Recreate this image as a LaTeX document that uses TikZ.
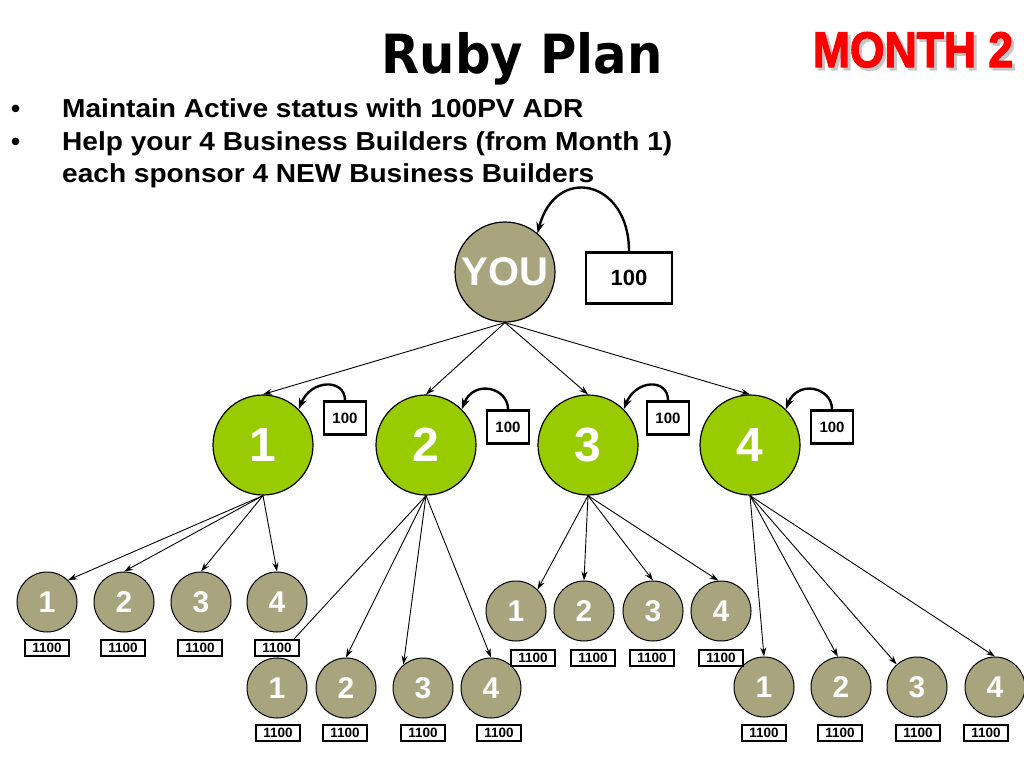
\documentclass[tikz,border=0pt]{standalone}
\usepackage{fontspec}
\setmainfont{Liberation Sans}
\newfontfamily\titlefont{DejaVu Sans}
\newfontfamily\monthfont[BoldFeatures={FakeBold=2.5}]{Liberation Sans}
\usetikzlibrary{arrows.meta}
\definecolor{khaki}{RGB}{168,164,126}
\definecolor{lgreen}{RGB}{153,204,0}
\definecolor{mred}{RGB}{255,0,0}
\begin{document}
\begin{tikzpicture}[x=1pt,y=-1pt,
  bigc/.style={circle, draw=black, line width=1.2pt, fill=khaki, minimum size=100pt, inner sep=0pt, text=white, font=\fontsize{40}{40}\selectfont\bfseries},
  greenc/.style={circle, draw=black, line width=1.2pt, fill=lgreen, minimum size=100pt, inner sep=0pt, text=white, font=\fontsize{48}{48}\selectfont\bfseries},
  smallc/.style={circle, draw=black, line width=1pt, fill=khaki, minimum size=60pt, inner sep=0pt, text=white, font=\fontsize{30}{30}\selectfont\bfseries},
  pvbox/.style={draw=black, line width=2.5pt, fill=white, minimum width=86pt, minimum height=51pt, inner sep=0pt, font=\fontsize{22}{22}\selectfont\bfseries},
  sbox/.style={draw=black, line width=2.5pt, fill=white, minimum width=42pt, minimum height=33pt, inner sep=0pt, font=\fontsize{15}{15}\selectfont\bfseries},
  tbox/.style={draw=black, line width=2.2pt, fill=white, minimum width=44pt, minimum height=16pt, inner sep=0pt, font=\fontsize{13.5}{13.5}\selectfont\bfseries},
  edge/.style={-{Stealth[length=9pt,width=6pt]}, line width=0.9pt},
  loopa/.style={-{Stealth[length=11pt,width=8pt]}, line width=2.4pt},
  bullettext/.style={anchor=base west, inner sep=0pt, font=\fontsize{26}{26}\selectfont\bfseries}
]
\useasboundingbox (0,0) rectangle (1024,768);

% title
\node[anchor=base, inner sep=0pt] (title) at (522,73) {\scalebox{0.92}[1]{\titlefont\bfseries\fontsize{54}{54}\selectfont Ruby Plan}};
\node[anchor=base, inner sep=0pt, text=black!22] (monthsh) at (916,70) {\scalebox{0.89}[1]{\monthfont\bfseries\fontsize{50}{50}\selectfont MONTH 2}};
\node[anchor=base, inner sep=0pt, text=mred] (month) at (913,67) {\scalebox{0.89}[1]{\monthfont\bfseries\fontsize{50}{50}\selectfont MONTH 2}};

% bullets
\node[bullettext] (bul1) at (11,117) {•};
\node[bullettext] (bul2) at (11,150) {•};
\node[bullettext] (l1) at (62,117) {\scalebox{1.08}[1]{Maintain Active status with 100PV ADR}};
\node[bullettext] (l2) at (62,150) {\scalebox{1.08}[1]{Help your 4 Business Builders (from Month 1)}};
\node[bullettext] (l3) at (62,182) {\scalebox{1.08}[1]{each sponsor 4 NEW Business Builders}};

% top
\node[bigc] (you) at (505,272) {YOU};
\node[pvbox] (youpv) at (629,278) {100};

% level 1
\node[greenc] (n1) at (263,445) {1};
\node[greenc] (n2) at (426,445) {2};
\node[greenc] (n3) at (588,445) {3};
\node[greenc] (n4) at (750,445) {4};
\node[sbox] (b1) at (345,418) {100};
\node[sbox] (b2) at (508,427) {100};
\node[sbox] (b3) at (668,418) {100};
\node[sbox] (b4) at (832,427) {100};

% level 2
\node[smallc] (a1) at (47,602) {1};
\node[smallc] (a2) at (124,602) {2};
\node[smallc] (a3) at (201,602) {3};
\node[smallc] (a4) at (277,602) {4};
\node[smallc] (c1) at (277,688) {1};
\node[smallc] (c2) at (346,688) {2};
\node[smallc] (c3) at (423,688) {3};
\node[smallc] (c4) at (491,688) {4};
\node[smallc] (d1) at (516,611) {1};
\node[smallc] (d2) at (584,611) {2};
\node[smallc] (d3) at (653,611) {3};
\node[smallc] (d4) at (721,611) {4};
\node[smallc] (e1) at (764,687) {1};
\node[smallc] (e2) at (841,687) {2};
\node[smallc] (e3) at (917,687) {3};
\node[smallc] (e4) at (995,687) {4};

% edges
\foreach \t in {n1,n2,n3,n4} \draw[edge] (you.south) -- (\t.north);
\draw[edge] (n1.south) -- (a1.46);
\draw[edge] (n1.south) -- (a2.north);
\draw[edge] (n1.south) -- (a3.north);
\draw[edge] (n1.south) -- (a4.north);
\draw[edge] (n2.south) -- (c1.north);
\draw[edge] (n2.south) -- (c2.north);
\draw[edge] (n2.south) -- (c3.130);
\draw[edge] (n2.south) -- (c4.north);
\draw[edge] (n3.south) -- (d1.45);
\draw[edge] (n3.south) -- (d2.north);
\draw[edge] (n3.south) -- (d3.north);
\draw[edge] (n3.south) -- (d4.95);
\draw[edge] (n4.south) -- (e1.north);
\draw[edge] (n4.south) -- (e2.96);
\draw[edge] (n4.south) -- (e3.132);
\draw[edge] (n4.south) -- (e4.north);

% loops
\draw[loopa] (youpv.north) .. controls +(0,-72) and +(18,-69) .. (you.50);
\draw[loopa] (b1.north) .. controls +(0,-22) and +(12,-30) .. (n1.45);
\draw[loopa] (b2.north) .. controls +(0,-22) and +(12,-30) .. (n2.45);
\draw[loopa] (b3.north) .. controls +(0,-22) and +(12,-30) .. (n3.45);
\draw[loopa] (b4.north) .. controls +(0,-22) and +(12,-30) .. (n4.45);

% value boxes
\node[tbox] (ta1) at (47,648) {1100};
\node[tbox] (ta2) at (123,648) {1100};
\node[tbox] (ta3) at (200,648) {1100};
\node[tbox] (ta4) at (277,648) {1100};
\node[tbox] (tc1) at (278,733) {1100};
\node[tbox] (tc2) at (345,733) {1100};
\node[tbox] (tc3) at (423,733) {1100};
\node[tbox] (tc4) at (499,733) {1100};
\node[tbox] (td1) at (533,658) {1100};
\node[tbox] (td2) at (593,658) {1100};
\node[tbox] (td3) at (652,658) {1100};
\node[tbox] (td4) at (721,658) {1100};
\node[tbox] (te1) at (764,733) {1100};
\node[tbox] (te2) at (840,733) {1100};
\node[tbox] (te3) at (918,733) {1100};
\node[tbox] (te4) at (986,733) {1100};
\end{tikzpicture}
\end{document}
